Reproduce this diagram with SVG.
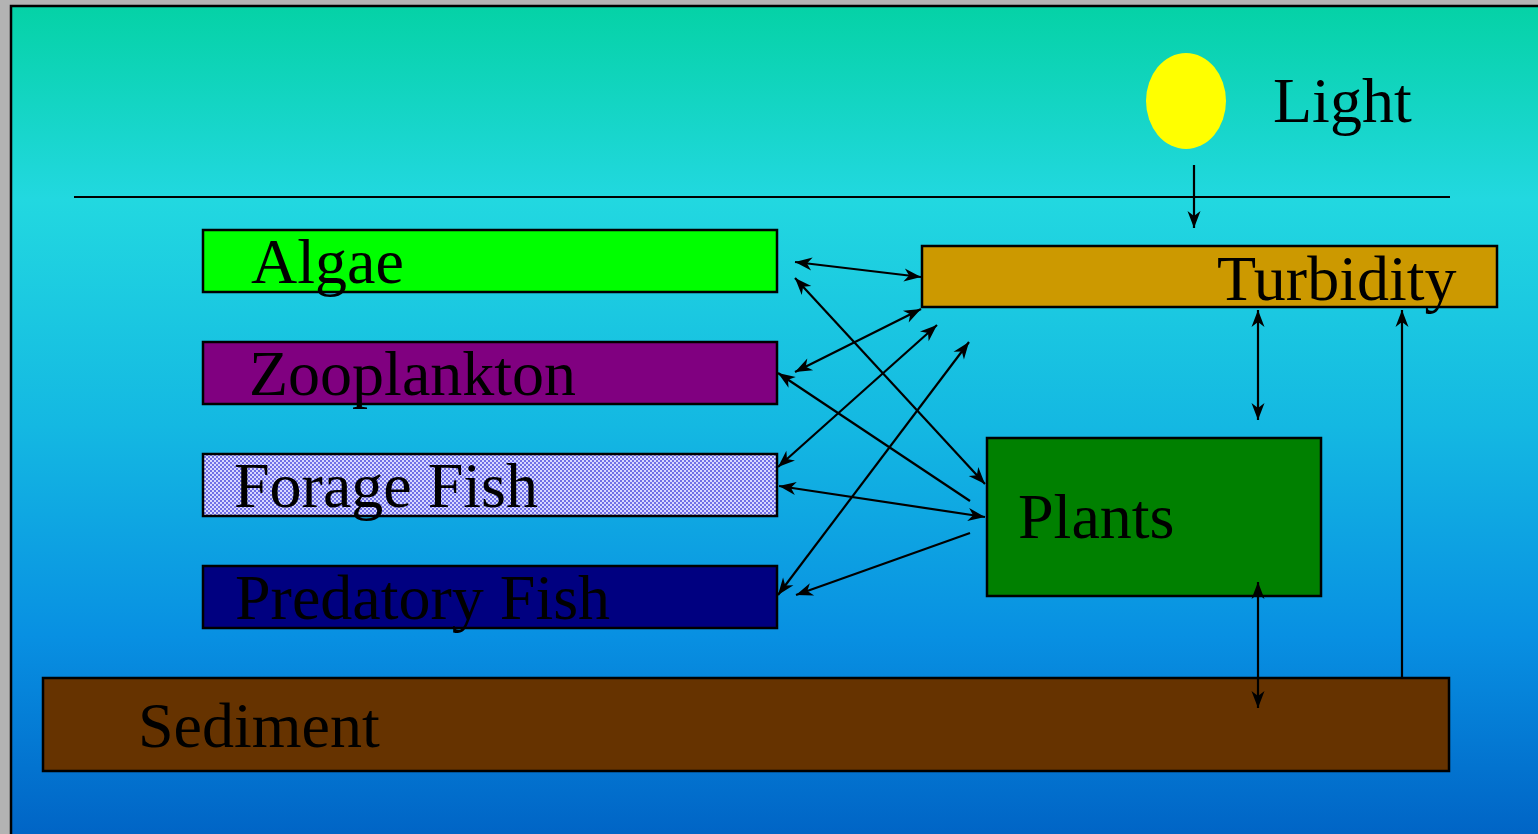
<svg xmlns="http://www.w3.org/2000/svg" width="1538" height="834" viewBox="0 0 1538 834">
<defs>
<linearGradient id="bg" x1="0" y1="0" x2="0" y2="1">
<stop offset="0" stop-color="#05D2A6"/>
<stop offset="0.23" stop-color="#22D8E0"/>
<stop offset="0.5" stop-color="#14B8E2"/>
<stop offset="0.75" stop-color="#0890E2"/>
<stop offset="1" stop-color="#0062C4"/>
</linearGradient>
<pattern id="dots" width="4" height="4" patternUnits="userSpaceOnUse">
<rect width="4" height="4" fill="#D8D8FF"/>
<rect width="2" height="2" fill="#7070E6"/>
<rect x="2" y="2" width="2" height="2" fill="#7070E6"/>
</pattern>
<marker id="ah" markerUnits="userSpaceOnUse" markerWidth="20" markerHeight="16" viewBox="-17 -8 18 16" refX="0" refY="0" orient="auto-start-reverse">
<path d="M0,0 L-17,-6.5 L-12,0 L-17,6.5 Z" fill="#000"/>
</marker>
<style>
.box{stroke:#000;stroke-width:2.5}
.lbl{font-family:"Liberation Serif","Times New Roman",serif;font-size:64px;fill:#000}
.c{stroke:#000;stroke-width:2.2;fill:none}
</style>
</defs>
<rect width="1538" height="834" fill="#B3B3B3"/>
<rect x="11" y="6" width="1540" height="840" fill="url(#bg)" stroke="#000" stroke-width="2.5"/>
<line x1="74" y1="197" x2="1450" y2="197" stroke="#000" stroke-width="2"/>

<g id="sun"><ellipse cx="1186" cy="101" rx="40" ry="48" fill="#FFFF00"/><text class="lbl" x="1273" y="122">Light</text></g>
<g id="algae"><rect class="box" x="203" y="230" width="574" height="62" fill="#00FF00"/><text class="lbl" x="251" y="283">Algae</text></g>
<g id="zooplankton"><rect class="box" x="203" y="342" width="574" height="62" fill="#800080"/><text class="lbl" x="249" y="395">Zooplankton</text></g>
<g id="forage"><rect class="box" x="203" y="454" width="574" height="62" fill="url(#dots)"/><text class="lbl" x="234" y="507">Forage Fish</text></g>
<g id="predatory"><rect class="box" x="203" y="566" width="574" height="62" fill="#000080"/><text class="lbl" x="235" y="619">Predatory Fish</text></g>
<g id="turbidity"><rect class="box" x="922" y="246" width="575" height="61" fill="#CC9900"/><text class="lbl" x="1217" y="300">Turbidity</text></g>
<g id="plants"><rect class="box" x="987" y="438" width="334" height="158" fill="#008000"/><text class="lbl" x="1018" y="538">Plants</text></g>
<g id="sediment"><rect class="box" x="43" y="678" width="1406" height="93" fill="#663300"/><text class="lbl" x="138" y="747">Sediment</text></g>

<g id="connectors">
<line class="c" x1="795" y1="262" x2="921" y2="277" marker-start="url(#ah)" marker-end="url(#ah)"/>
<line class="c" x1="795" y1="278" x2="985" y2="484" marker-start="url(#ah)" marker-end="url(#ah)"/>
<line class="c" x1="795" y1="372" x2="921" y2="309" marker-start="url(#ah)" marker-end="url(#ah)"/>
<line class="c" x1="778" y1="373" x2="970" y2="501" marker-start="url(#ah)"/>
<line class="c" x1="778" y1="467" x2="937" y2="325" marker-start="url(#ah)" marker-end="url(#ah)"/>
<line class="c" x1="779" y1="486" x2="985" y2="517" marker-start="url(#ah)" marker-end="url(#ah)"/>
<line class="c" x1="778" y1="595" x2="969" y2="342" marker-start="url(#ah)" marker-end="url(#ah)"/>
<line class="c" x1="970" y1="533" x2="796" y2="595" marker-end="url(#ah)"/>
<line class="c" x1="1194" y1="165" x2="1194" y2="228" marker-end="url(#ah)"/>
<line class="c" x1="1258" y1="310" x2="1258" y2="420" marker-start="url(#ah)" marker-end="url(#ah)"/>
<line class="c" x1="1402" y1="678" x2="1402" y2="310" marker-end="url(#ah)"/>
<line class="c" x1="1258" y1="582" x2="1258" y2="708" marker-start="url(#ah)" marker-end="url(#ah)"/>
</g>
</svg>
